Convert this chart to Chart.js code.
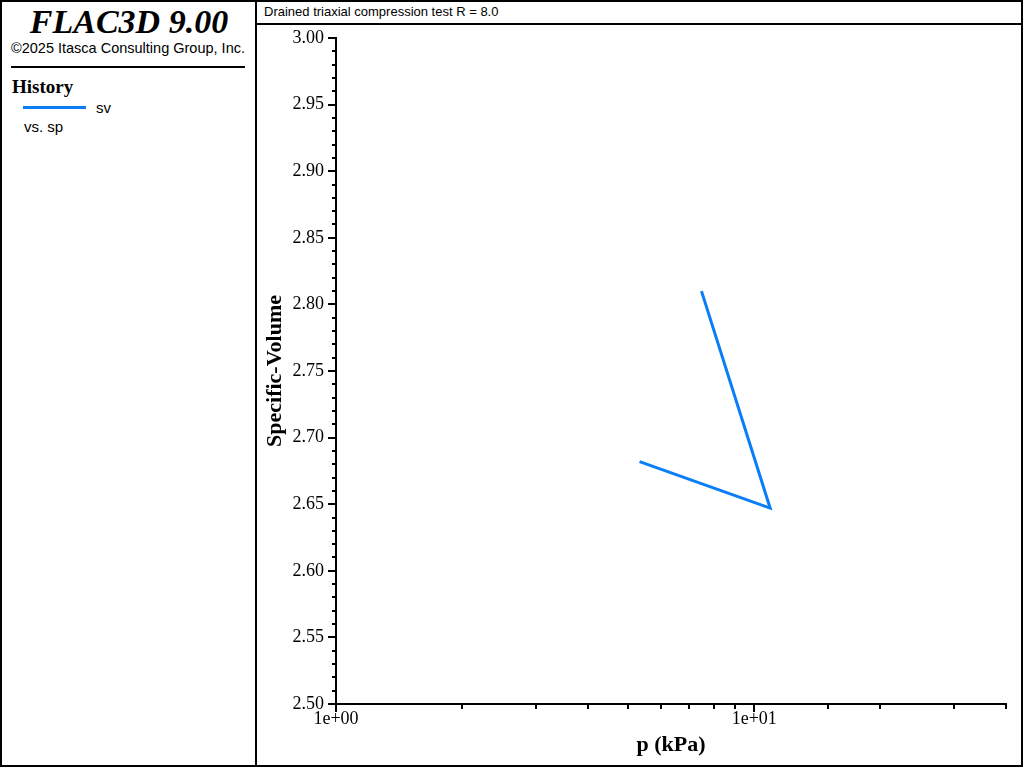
<!DOCTYPE html>
<html><head><meta charset="utf-8">
<script src="https://cdn.jsdelivr.net/npm/chart.js@4/dist/chart.umd.min.js"></script>
<style>
body{margin:0;background:#fff;}
#wrap{position:relative;width:1024px;height:768px;overflow:hidden;background:#fff;}
.t{position:absolute;white-space:nowrap;color:#000;}
.ln{position:absolute;background:#000;}
#c{position:absolute;left:256px;top:25px;}
</style></head><body>
<div id="wrap">
  <div class="ln" style="left:0;top:0;width:1023px;height:2px"></div>
  <div class="ln" style="left:0;top:765px;width:1023px;height:2px"></div>
  <div class="ln" style="left:0;top:0;width:2px;height:767px"></div>
  <div class="ln" style="left:1021px;top:0;width:2px;height:767px"></div>
  <div class="ln" style="left:255px;top:0;width:2px;height:767px"></div>
  <div class="ln" style="left:256px;top:23px;width:766px;height:2px"></div>
  <div class="ln" style="left:11px;top:66px;width:234px;height:2px"></div>
  <div class="t" style="left:0;width:258px;text-align:center;top:5px;font:italic bold 34px/34px 'Liberation Serif';">FLAC3D 9.00</div>
  <div class="t" style="left:0;width:256px;text-align:center;top:41px;font:14.5px/14px 'Liberation Sans';">©2025 Itasca Consulting Group, Inc.</div>
  <div class="t" style="left:12px;top:77px;font:bold 19px/19px 'Liberation Serif';">History</div>
  <div class="ln" style="left:23px;top:106px;width:63px;height:3px;background:#0a7ef7"></div>
  <div class="t" style="left:96px;top:100px;font:15px/15px 'Liberation Sans';">sv</div>
  <div class="t" style="left:24px;top:119px;font:15px/15px 'Liberation Sans';">vs. sp</div>
  <div class="t" style="left:264px;top:5px;font:13px/13px 'Liberation Sans';">Drained triaxial compression test R = 8.0</div>
  <canvas id="c" width="766" height="741"></canvas>
</div>
<script>
// Data (p in kPa, specific volume)
const pValues  = [7.48, 10.92, 5.32];
const svValues = [2.810, 2.647, 2.682];
const seriesName = 'sv';
const xMajorTicks = [1, 10];
const xMajorLabels = ['1e+00', '1e+01'];
const yMin = 2.5, yMax = 3.0, yMinorStep = 0.01, yMajorEvery = 5;

const points = pValues.map((p, i) => ({x: p, y: svValues[i]}));

const tickMarks = {
  id: 'tickMarks',
  afterDraw(chart) {
    const ctx = chart.ctx, a = chart.chartArea;
    const xs = chart.scales.x, ys = chart.scales.y;
    ctx.save();
    ctx.strokeStyle = '#000';
    ctx.lineWidth = 2;
    xs.ticks.forEach(t => {
      const px = Math.round(xs.getPixelForValue(t.value));
      const major = xMajorTicks.some(m => Math.abs(m - t.value) < 1e-9);
      ctx.beginPath();
      ctx.moveTo(px, a.bottom);
      ctx.lineTo(px, a.bottom + (major ? 8 : 5));
      ctx.stroke();
    });
    ys.ticks.forEach(t => {
      const py = Math.round(ys.getPixelForValue(t.value));
      const n = Math.round(t.value / yMinorStep);
      const major = n % yMajorEvery === 0;
      ctx.beginPath();
      ctx.moveTo(a.left, py);
      ctx.lineTo(a.left - (major ? 8 : 4), py);
      ctx.stroke();
    });
    ctx.restore();
  }
};

function noPad(s) { s.paddingTop = 0; s.paddingBottom = 0; s.paddingLeft = 0; s.paddingRight = 0; }

new Chart(document.getElementById('c'), {
  type: 'scatter',
  data: {
    datasets: [{
      label: seriesName,
      data: points,
      showLine: true,
      borderColor: '#0a7ef7',
      backgroundColor: '#0a7ef7',
      borderWidth: 3,
      pointRadius: 0,
      tension: 0
    }]
  },
  options: {
    responsive: false,
    animation: false,
    devicePixelRatio: 1,
    layout: {padding: {left: 0, top: 13, right: 16, bottom: 0}},
    plugins: {legend: {display: false}, tooltip: {enabled: false}},
    scales: {
      x: {
        type: 'logarithmic',
        min: 1, max: 40,
        afterFit(s) { s.height = 62; noPad(s); },
        grid: {display: false, drawTicks: false},
        border: {display: true, color: '#000', width: 2},
        ticks: {
          autoSkip: false, maxRotation: 0, padding: 4, color: '#000',
          font: {family: 'Liberation Serif', size: 18},
          callback(v) {
            const i = xMajorTicks.findIndex(m => Math.abs(m - v) < 1e-9);
            return i >= 0 ? xMajorLabels[i] : '';
          }
        },
        title: {display: true, text: 'p (kPa)', color: '#000',
          font: {family: 'Liberation Serif', size: 22, weight: 'bold'},
          padding: {top: 0, bottom: 7}}
      },
      y: {
        type: 'linear',
        min: yMin, max: yMax,
        afterFit(s) { s.width = 80; noPad(s); },
        grid: {display: false, drawTicks: false},
        border: {display: true, color: '#000', width: 2},
        ticks: {
          stepSize: yMinorStep, maxTicksLimit: 100, autoSkip: false, padding: 12, color: '#000',
          font: {family: 'Liberation Serif', size: 18},
          callback(v) {
            const n = Math.round(v / yMinorStep);
            return n % yMajorEvery === 0 ? (n * yMinorStep).toFixed(2) : '';
          }
        },
        title: {display: true, text: 'Specific-Volume', color: '#000',
          font: {family: 'Liberation Serif', size: 22, weight: 'bold'},
          padding: {top: 6, bottom: 0}}
      }
    }
  },
  plugins: [tickMarks]
});
</script>
</body></html>
